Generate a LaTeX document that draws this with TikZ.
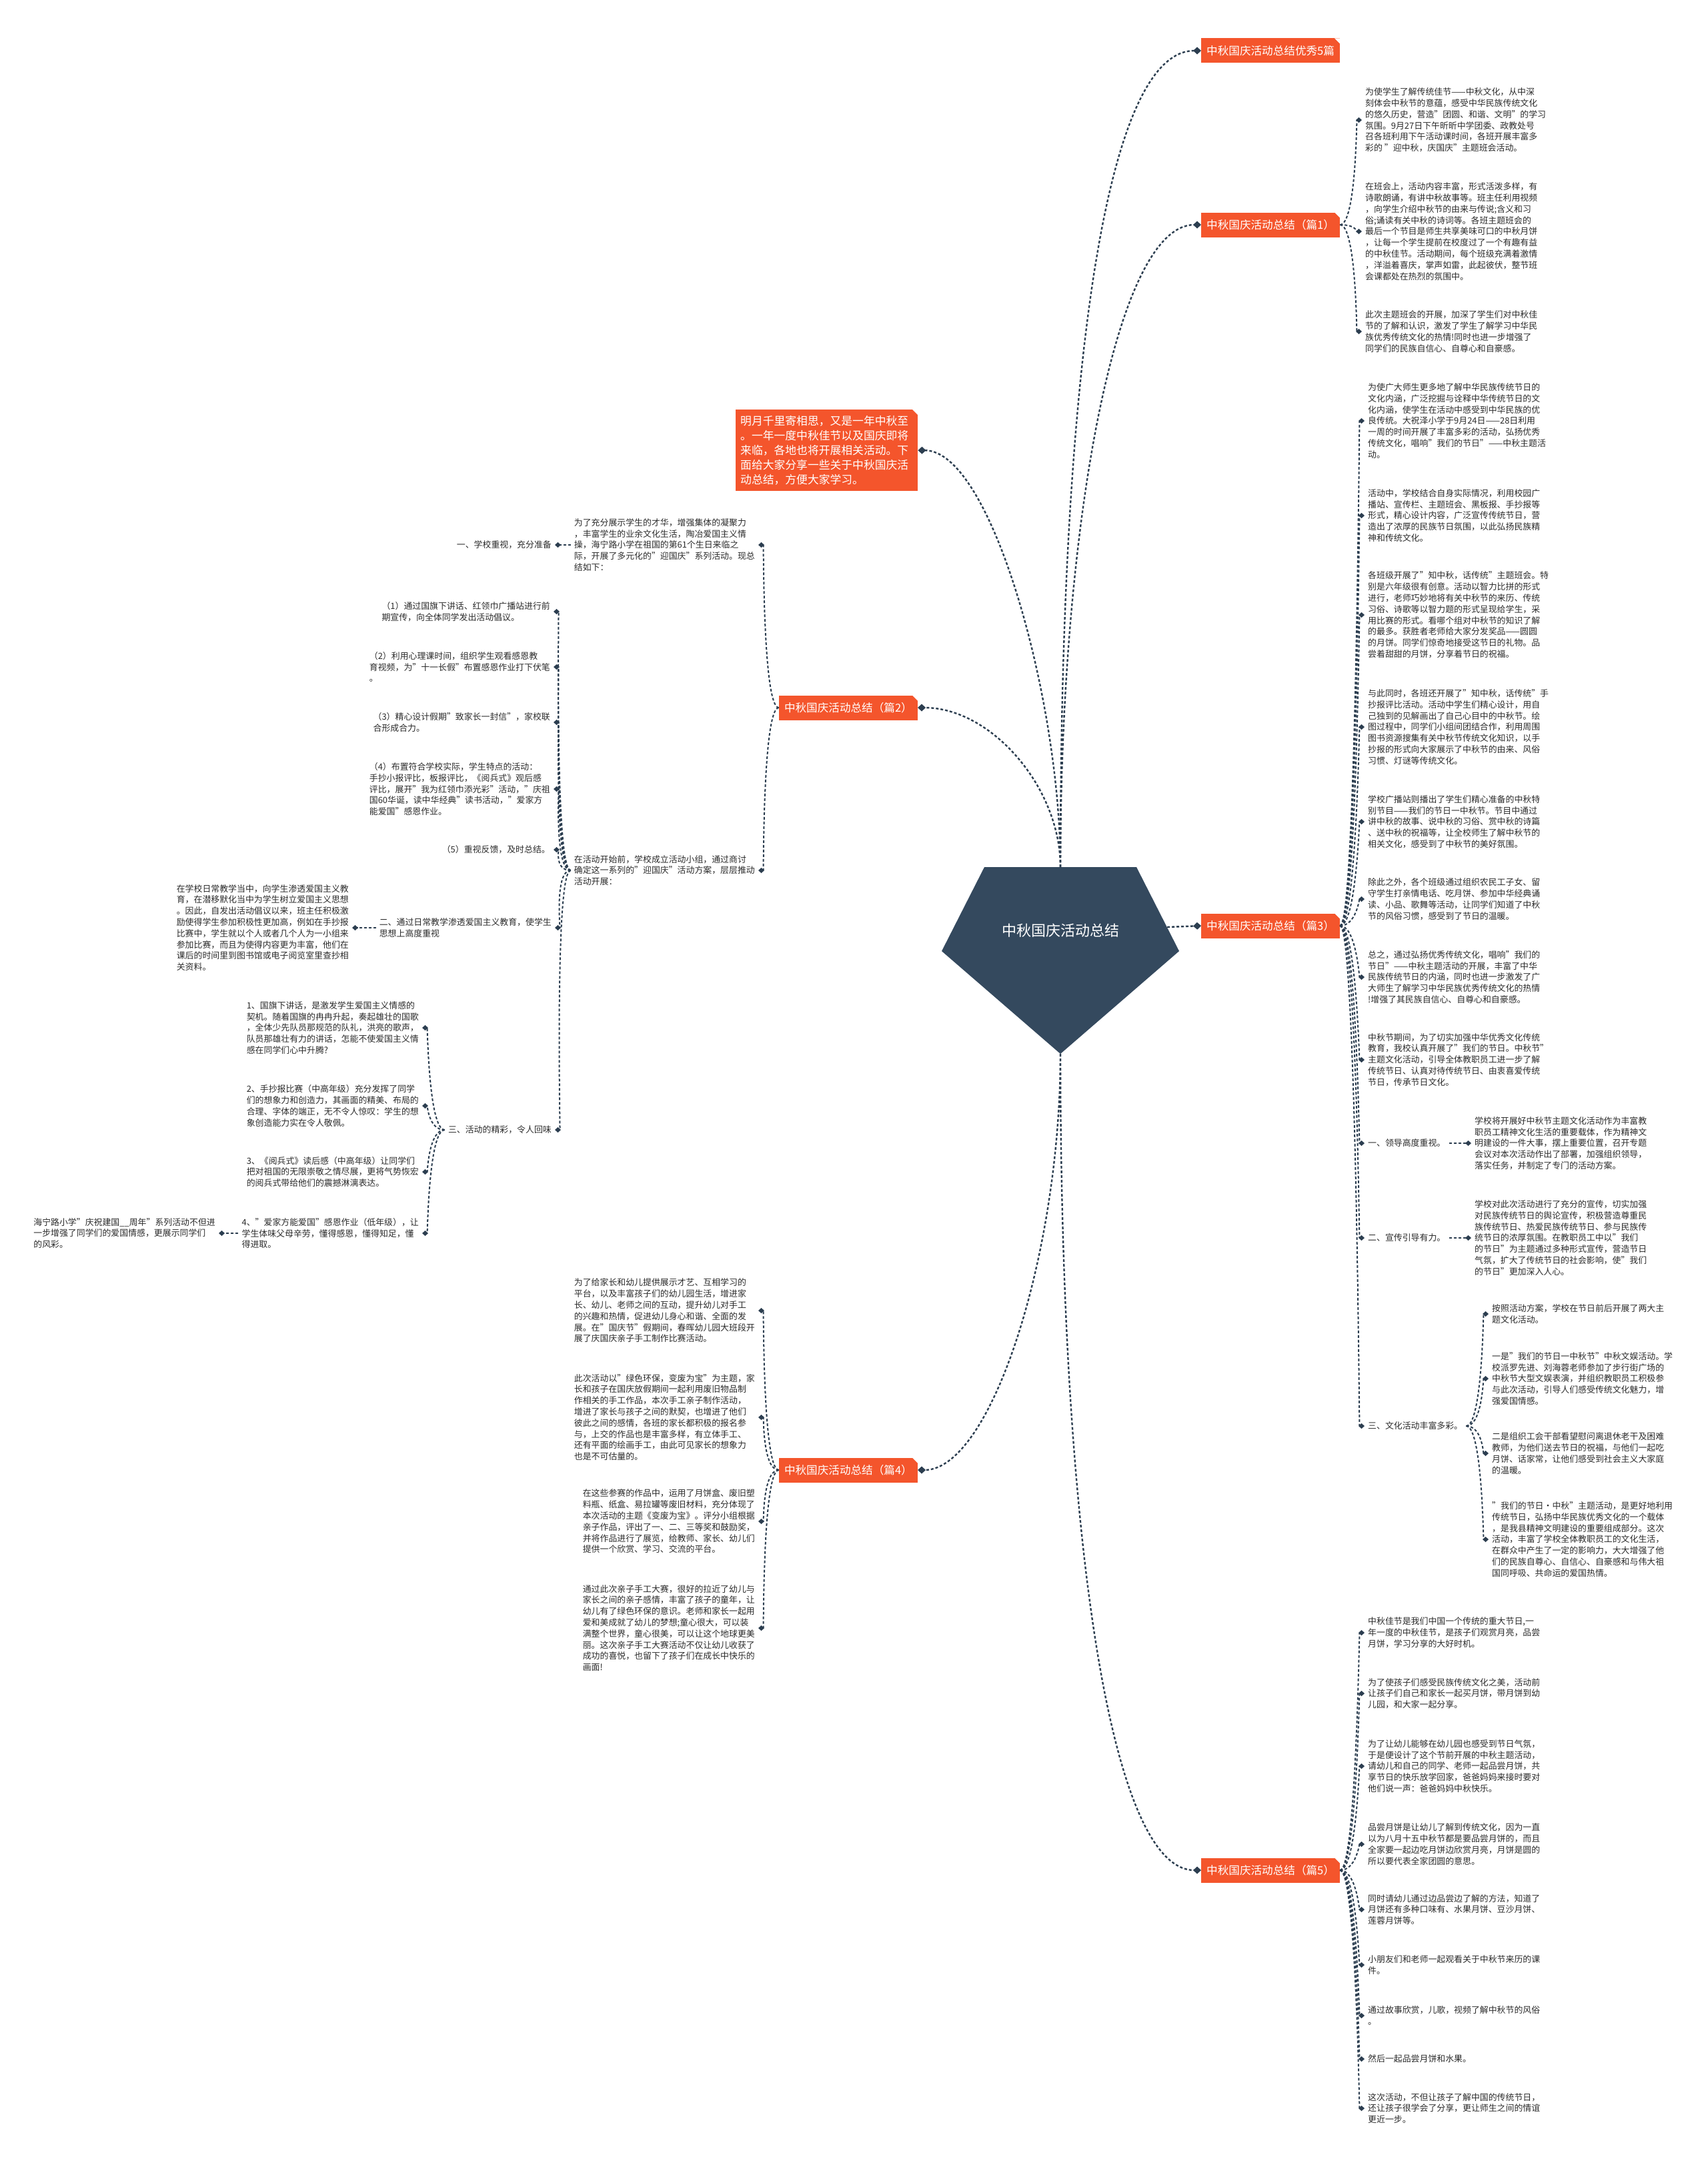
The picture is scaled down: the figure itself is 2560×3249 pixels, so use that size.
\documentclass[tikz,border=0pt]{standalone}
\usepackage{fontspec}
\setmainfont{Noto Sans CJK SC}
\usepackage{xcolor}
\usetikzlibrary{arrows.meta}
\definecolor{hdrred}{HTML}{F4552C}
\definecolor{rootblue}{HTML}{34495E}
\definecolor{linec}{HTML}{2C3E50}
\definecolor{txtc}{HTML}{2B2B2B}
\tikzset{
  hdr/.style={fill=hdrred, text=white, font=\fontsize{16.6}{20}\selectfont,
    minimum height=37pt, inner xsep=8pt, inner ysep=0pt,
    path picture={\fill[white] (path picture bounding box.north east) -- ++(-8pt,0pt) -- ++(8pt,-8pt) -- cycle;}},
  leaf/.style={text=txtc, font=\fontsize{12.9}{16.8}\selectfont, align=left, inner xsep=5pt, inner ysep=2pt},
  link/.style={draw=linec, line width=2pt, dash pattern=on 4pt off 3pt, -{Diamond[length=9pt,width=8pt]}},
  mainlink/.style={link, line width=2.4pt, -{Diamond[length=12pt,width=11pt]}},
  rl/.style={link, out=0, in=180, out distance=24pt, in distance=8pt},
  ll/.style={link, out=180, in=0, out distance=24pt, in distance=8pt}
}
\begin{document}
\begin{tikzpicture}[x=1pt,y=-1pt]
    \useasboundingbox (0,0) rectangle (2560,3249);
    \fill[white] (0,0) rectangle (2560,3249);

    % Center pentagon
    \fill[rootblue] (1476,1300) -- (1704,1300) -- (1768,1426) -- (1590,1580) -- (1412,1426) -- cycle;
    \node[text=white, font=\fontsize{22}{26}\selectfont] (root) at (1590,1395) {中秋国庆活动总结};
    \coordinate (rtop) at (1590,1300);
    \coordinate (rbot) at (1590,1580);
    \coordinate (rright) at (1750,1390);

    % Intro box and headers
    \node[hdr, anchor=north west, text width=259pt, inner xsep=7pt, inner ysep=9pt, align=left,
      font=\fontsize{16.8}{22}\selectfont] (intro) at (1103,614)
      {明月千里寄相思，又是一年中秋至\\。一年一度中秋佳节以及国庆即将\\来临，各地也将开展相关活动。下\\面给大家分享一些关于中秋国庆活\\动总结，方便大家学习。};
    \node[hdr, anchor=west] (s5) at (1801,76) {中秋国庆活动总结优秀5篇};
    \node[hdr, anchor=west] (p1) at (1801,337) {中秋国庆活动总结（篇1）};
    \node[hdr, anchor=west] (p3) at (1801,1388) {中秋国庆活动总结（篇3）};
    \node[hdr, anchor=west] (p5) at (1801,2804) {中秋国庆活动总结（篇5）};
    \node[hdr, anchor=east] (p2) at (1376,1061) {中秋国庆活动总结（篇2）};
    \node[hdr, anchor=east] (p4) at (1376,2204) {中秋国庆活动总结（篇4）};

    % Edges from the center
    \draw[mainlink] (rtop) .. controls +(0,-700) and +(-150,0) .. (s5.west);
    \draw[mainlink] (rtop) .. controls +(0,-500) and +(-130,0) .. (p1.west);
    \draw[mainlink] (rtop) .. controls +(0,-250) and +(110,0) .. (intro.east);
    \draw[mainlink] (rtop) .. controls +(0,-120) and +(110,0) .. (p2.east);
    \draw[mainlink] (rright) -- (p3.west);
    \draw[mainlink] (rbot) .. controls +(0,300) and +(110,0) .. (p4.east);
    \draw[mainlink] (rbot) .. controls +(0,700) and +(-140,0) .. (p5.west);

    % Part 1
    \node[leaf, anchor=west] (p1a) at (2042,180) {为使学生了解传统佳节——中秋文化，从中深\\刻体会中秋节的意蕴，感受中华民族传统文化\\的悠久历史，营造"团圆、和谐、文明"的学习\\氛围。9月27日下午昕昕中学团委、政教处号\\召各班利用下午活动课时间，各班开展丰富多\\彩的 "迎中秋，庆国庆"主题班会活动。};
    \node[leaf, anchor=west] (p1b) at (2042,347) {在班会上，活动内容丰富，形式活泼多样，有\\诗歌朗诵，有讲中秋故事等。班主任利用视频\\，向学生介绍中秋节的由来与传说;含义和习\\俗;诵读有关中秋的诗词等。各班主题班会的\\最后一个节目是师生共享美味可口的中秋月饼\\，让每一个学生提前在校度过了一个有趣有益\\的中秋佳节。活动期间，每个班级充满着激情\\，洋溢着喜庆，掌声如雷，此起彼伏，整节班\\会课都处在热烈的氛围中。};
    \node[leaf, anchor=west] (p1c) at (2042,497) {此次主题班会的开展，加深了学生们对中秋佳\\节的了解和认识，激发了学生了解学习中华民\\族优秀传统文化的热情!同时也进一步增强了\\同学们的民族自信心、自尊心和自豪感。};
    \draw (p1.east) edge[rl] (p1a.west) edge[rl] (p1b.west) edge[rl] (p1c.west);

    % Part 3
    \node[leaf, anchor=west] (p3a) at (2046,631) {为使广大师生更多地了解中华民族传统节日的\\文化内涵，广泛挖掘与诠释中华传统节日的文\\化内涵，使学生在活动中感受到中华民族的优\\良传统。大祝泽小学于9月24日——28日利用\\一周的时间开展了丰富多彩的活动，弘扬优秀\\传统文化，唱响"我们的节日"——中秋主题活\\动。};
    \node[leaf, anchor=west] (p3b) at (2046,773) {活动中，学校结合自身实际情况，利用校园广\\播站、宣传栏、主题班会、黑板报、手抄报等\\形式，精心设计内容，广泛宣传传统节日，营\\造出了浓厚的民族节日氛围，以此弘扬民族精\\神和传统文化。};
    \node[leaf, anchor=west] (p3c) at (2046,922) {各班级开展了"知中秋，话传统"主题班会。特\\别是六年级很有创意。活动以智力比拼的形式\\进行，老师巧妙地将有关中秋节的来历、传统\\习俗、诗歌等以智力题的形式呈现给学生，采\\用比赛的形式。看哪个组对中秋节的知识了解\\的最多。获胜者老师给大家分发奖品——圆圆\\的月饼。同学们惊奇地接受这节日的礼物。品\\尝着甜甜的月饼，分享着节日的祝福。};
    \node[leaf, anchor=west] (p3d) at (2046,1090) {与此同时，各班还开展了"知中秋，话传统"手\\抄报评比活动。活动中学生们精心设计，用自\\己独到的见解画出了自己心目中的中秋节。绘\\图过程中，同学们小组间团结合作，利用周围\\图书资源搜集有关中秋节传统文化知识，以手\\抄报的形式向大家展示了中秋节的由来、风俗\\习惯、灯谜等传统文化。};
    \node[leaf, anchor=west] (p3e) at (2046,1232) {学校广播站则播出了学生们精心准备的中秋特\\别节目——我们的节日一中秋节。节目中通过\\讲中秋的故事、说中秋的习俗、赏中秋的诗篇\\、送中秋的祝福等，让全校师生了解中秋节的\\相关文化，感受到了中秋节的美好氛围。};
    \node[leaf, anchor=west] (p3f) at (2046,1348) {除此之外，各个班级通过组织农民工子女、留\\守学生打亲情电话、吃月饼、参加中华经典诵\\读、小品、歌舞等活动，让同学们知道了中秋\\节的风俗习惯，感受到了节日的温暖。};
    \node[leaf, anchor=west] (p3g) at (2046,1465) {总之，通过弘扬优秀传统文化，唱响"我们的\\节日"——中秋主题活动的开展，丰富了中华\\民族传统节日的内涵，同时也进一步激发了广\\大师生了解学习中华民族优秀传统文化的热情\\!增强了其民族自信心、自尊心和自豪感。};
    \node[leaf, anchor=west] (p3h) at (2046,1589) {中秋节期间，为了切实加强中华优秀文化传统\\教育，我校认真开展了"我们的节日。中秋节"\\主题文化活动，引导全体教职员工进一步了解\\传统节日、认真对待传统节日、由衷喜爱传统\\节日，传承节日文化。};
    \node[leaf, anchor=west] (p3i) at (2046,1714) {一、领导高度重视。};
    \node[leaf, anchor=west] (p3j) at (2046,1856) {二、宣传引导有力。};
    \node[leaf, anchor=west] (p3k) at (2046,2138) {三、文化活动丰富多彩。};
    \node[leaf, anchor=west] (p3i1) at (2206,1714) {学校将开展好中秋节主题文化活动作为丰富教\\职员工精神文化生活的重要载体，作为精神文\\明建设的一件大事，摆上重要位置，召开专题\\会议对本次活动作出了部署，加强组织领导，\\落实任务，并制定了专门的活动方案。};
    \node[leaf, anchor=west] (p3j1) at (2206,1856) {学校对此次活动进行了充分的宣传，切实加强\\对民族传统节日的舆论宣传，积极营造尊重民\\族传统节日、热爱民族传统节日、参与民族传\\统节日的浓厚氛围。在教职员工中以"我们\\的节日"为主题通过多种形式宣传，营造节日\\气氛，扩大了传统节日的社会影响，使"我们\\的节日"更加深入人心。};
    \node[leaf, anchor=west] (p3k1) at (2232,1970) {按照活动方案，学校在节日前后开展了两大主\\题文化活动。};
    \node[leaf, anchor=west] (p3k2) at (2232,2067) {一是"我们的节日一中秋节"中秋文娱活动。学\\校派罗先进、刘海蓉老师参加了步行街广场的\\中秋节大型文娱表演，并组织教职员工积极参\\与此次活动，引导人们感受传统文化魅力，增\\强爱国情感。};
    \node[leaf, anchor=west] (p3k3) at (2232,2179) {二是组织工会干部看望慰问离退休老干及困难\\教师，为他们送去节日的祝福，与他们一起吃\\月饼、话家常，让他们感受到社会主义大家庭\\的温暖。};
    \node[leaf, anchor=west] (p3k4) at (2232,2308) {"我们的节日·中秋"主题活动，是更好地利用\\传统节日，弘扬中华民族优秀文化的一个载体\\，是我县精神文明建设的重要组成部分。这次\\活动，丰富了学校全体教职员工的文化生活，\\在群众中产生了一定的影响力，大大增强了他\\们的民族自尊心、自信心、自豪感和与伟大祖\\国同呼吸、共命运的爱国热情。};
    \draw (p3.east) edge[rl] (p3a.west) edge[rl] (p3b.west) edge[rl] (p3c.west) edge[rl] (p3d.west)
      edge[rl] (p3e.west) edge[rl] (p3f.west) edge[rl] (p3g.west) edge[rl] (p3h.west)
      edge[rl] (p3i.west) edge[rl] (p3j.west) edge[rl] (p3k.west);
    \draw[link] (p3i.east) -- (p3i1.west);
    \draw[link] (p3j.east) -- (p3j1.west);
    \draw (p3k.east) edge[rl] (p3k1.west) edge[rl] (p3k2.west) edge[rl] (p3k3.west) edge[rl] (p3k4.west);

    % Part 5
    \node[leaf, anchor=west] (p5a) at (2046,2448) {中秋佳节是我们中国一个传统的重大节日,一\\年一度的中秋佳节，是孩子们观赏月亮，品尝\\月饼，学习分享的大好时机。};
    \node[leaf, anchor=west] (p5b) at (2046,2539) {为了使孩子们感受民族传统文化之美，活动前\\让孩子们自己和家长一起买月饼，带月饼到幼\\儿园，和大家一起分享。};
    \node[leaf, anchor=west] (p5c) at (2046,2648) {为了让幼儿能够在幼儿园也感受到节日气氛，\\于是便设计了这个节前开展的中秋主题活动，\\请幼儿和自己的同学、老师一起品尝月饼，共\\享节日的快乐放学回家，爸爸妈妈来接时要对\\他们说一声：爸爸妈妈中秋快乐。};
    \node[leaf, anchor=west] (p5d) at (2046,2765) {品尝月饼是让幼儿了解到传统文化，因为一直\\以为八月十五中秋节都是要品尝月饼的，而且\\全家要一起边吃月饼边欣赏月亮，月饼是圆的\\所以要代表全家团圆的意思。};
    \node[leaf, anchor=west] (p5e) at (2046,2863) {同时请幼儿通过边品尝边了解的方法，知道了\\月饼还有多种口味有、水果月饼、豆沙月饼、\\莲蓉月饼等。};
    \node[leaf, anchor=west] (p5f) at (2046,2946) {小朋友们和老师一起观看关于中秋节来历的课\\件。};
    \node[leaf, anchor=west] (p5g) at (2046,3022) {通过故事欣赏，儿歌，视频了解中秋节的风俗\\。};
    \node[leaf, anchor=west] (p5h) at (2046,3087) {然后一起品尝月饼和水果。};
    \node[leaf, anchor=west] (p5i) at (2046,3161) {这次活动，不但让孩子了解中国的传统节日，\\还让孩子很学会了分享，更让师生之间的情谊\\更近一步。};
    \draw (p5.east) edge[rl] (p5a.west) edge[rl] (p5b.west) edge[rl] (p5c.west) edge[rl] (p5d.west)
      edge[rl] (p5e.west) edge[rl] (p5f.west) edge[rl] (p5g.west) edge[rl] (p5h.west) edge[rl] (p5i.west);

    % Part 2 (left)
    \node[leaf, anchor=east] (p2a) at (1137,817) {为了充分展示学生的才华，增强集体的凝聚力\\，丰富学生的业余文化生活，陶冶爱国主义情\\操，海宁路小学在祖国的第61个生日来临之\\际，开展了多元化的"迎国庆"系列活动。现总\\结如下：};
    \node[leaf, anchor=east] (p2a1) at (832,817) {一、学校重视，充分准备};
    \node[leaf, anchor=east] (p2b) at (1137,1305) {在活动开始前，学校成立活动小组，通过商讨\\确定这一系列的"迎国庆"活动方案，层层推动\\活动开展：};
    \node[leaf, anchor=east] (p2b1) at (830,917) {（1）通过国旗下讲话、红领巾广播站进行前\\期宣传，向全体同学发出活动倡议。};
    \node[leaf, anchor=east] (p2b2) at (830,1000) {（2）利用心理课时间，组织学生观看感恩教\\育视频，为"十一长假"布置感恩作业打下伏笔\\。};
    \node[leaf, anchor=east] (p2b3) at (830,1083) {（3）精心设计假期"致家长一封信"，家校联\\合形成合力。};
    \node[leaf, anchor=east] (p2b4) at (830,1183) {（4）布置符合学校实际，学生特点的活动：\\手抄小报评比，板报评比，《阅兵式》观后感\\评比，展开"我为红领巾添光彩"活动，"庆祖\\国60华诞，读中华经典"读书活动，"爱家方\\能爱国"感恩作业。};
    \node[leaf, anchor=east] (p2b5) at (830,1274) {（5）重视反馈，及时总结。};
    \node[leaf, anchor=east] (p2b6) at (832,1391) {二、通过日常教学渗透爱国主义教育，使学生\\思想上高度重视};
    \node[leaf, anchor=east] (p2b6a) at (528,1391) {在学校日常教学当中，向学生渗透爱国主义教\\育，在潜移默化当中为学生树立爱国主义思想\\。因此，自发出活动倡议以来，班主任积极激\\励使得学生参加积极性更加高，例如在手抄报\\比赛中，学生就以个人或者几个人为一小组来\\参加比赛，而且为使得内容更为丰富，他们在\\课后的时间里到图书馆或电子阅览室里查抄相\\关资料。};
    \node[leaf, anchor=east] (p2b7) at (832,1694) {三、活动的精彩，令人回味};
    \node[leaf, anchor=east] (p2b7a) at (633,1541) {1、国旗下讲话，是激发学生爱国主义情感的\\契机。随着国旗的冉冉升起，奏起雄壮的国歌\\，全体少先队员那规范的队礼，洪亮的歌声，\\队员那雄壮有力的讲话，怎能不使爱国主义情\\感在同学们心中升腾?};
    \node[leaf, anchor=east] (p2b7b) at (633,1658) {2、手抄报比赛（中高年级）充分发挥了同学\\们的想象力和创造力，其画面的精美、布局的\\合理、字体的端正，无不令人惊叹：学生的想\\象创造能力实在令人敬佩。};
    \node[leaf, anchor=east] (p2b7c) at (633,1757) {3、《阅兵式》读后感（中高年级）让同学们\\把对祖国的无限崇敬之情尽展，更将气势恢宏\\的阅兵式带给他们的震撼淋漓表达。};
    \node[leaf, anchor=east] (p2b7d) at (633,1849) {4、"爱家方能爱国"感恩作业（低年级），让\\学生体味父母辛劳，懂得感恩，懂得知足，懂\\得进取。};
    \node[leaf, anchor=east] (p2b7d1) at (328,1849) {海宁路小学"庆祝建国\_\_周年"系列活动不但进\\一步增强了同学们的爱国情感，更展示同学们\\的风彩。};
    \draw (p2.west) edge[ll] (p2a.east) edge[ll] (p2b.east);
    \draw[link] (p2a.west) -- (p2a1.east);
    \draw (p2b.west) edge[ll] (p2b1.east) edge[ll] (p2b2.east) edge[ll] (p2b3.east) edge[ll] (p2b4.east)
      edge[ll] (p2b5.east) edge[ll] (p2b6.east) edge[ll] (p2b7.east);
    \draw[link] (p2b6.west) -- (p2b6a.east);
    \draw (p2b7.west) edge[ll] (p2b7a.east) edge[ll] (p2b7b.east) edge[ll] (p2b7c.east) edge[ll] (p2b7d.east);
    \draw[link] (p2b7d.west) -- (p2b7d1.east);

    % Part 4 (left)
    \node[leaf, anchor=east] (p4a) at (1137,1965) {为了给家长和幼儿提供展示才艺、互相学习的\\平台，以及丰富孩子们的幼儿园生活，增进家\\长、幼儿、老师之间的互动，提升幼儿对手工\\的兴趣和热情，促进幼儿身心和谐、全面的发\\展。在"国庆节"假期间，春晖幼儿园大班段开\\展了庆国庆亲子手工制作比赛活动。};
    \node[leaf, anchor=east] (p4b) at (1137,2125) {此次活动以"绿色环保，变废为宝"为主题，家\\长和孩子在国庆放假期间一起利用废旧物品制\\作相关的手工作品，本次手工亲子制作活动，\\增进了家长与孩子之间的默契，也增进了他们\\彼此之间的感情，各班的家长都积极的报名参\\与，上交的作品也是丰富多样，有立体手工、\\还有平面的绘画手工，由此可见家长的想象力\\也是不可估量的。};
    \node[leaf, anchor=east] (p4c) at (1137,2281) {在这些参赛的作品中，运用了月饼盒、废旧塑\\料瓶、纸盒、易拉罐等废旧材料，充分体现了\\本次活动的主题《变废为宝》。评分小组根据\\亲子作品，评出了一、二、三等奖和鼓励奖，\\并将作品进行了展览，给教师、家长、幼儿们\\提供一个欣赏、学习、交流的平台。};
    \node[leaf, anchor=east] (p4d) at (1137,2441) {通过此次亲子手工大赛，很好的拉近了幼儿与\\家长之间的亲子感情，丰富了孩子的童年，让\\幼儿有了绿色环保的意识。老师和家长一起用\\爱和美成就了幼儿的梦想;童心很大，可以装\\满整个世界，童心很美，可以让这个地球更美\\丽。这次亲子手工大赛活动不仅让幼儿收获了\\成功的喜悦，也留下了孩子们在成长中快乐的\\画面!};
    \draw (p4.west) edge[ll] (p4a.east) edge[ll] (p4b.east) edge[ll] (p4c.east) edge[ll] (p4d.east);

\end{tikzpicture}
\end{document}
